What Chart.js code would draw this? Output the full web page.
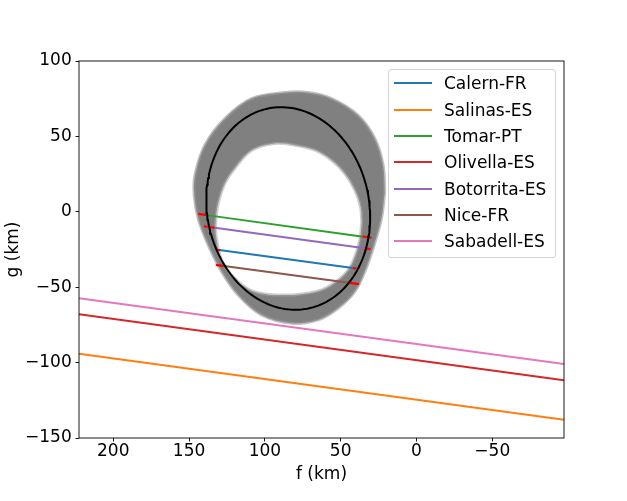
<!DOCTYPE html>
<html>
<head>
<meta charset="utf-8">
<script src="https://cdn.jsdelivr.net/npm/chart.js@4.4.0/dist/chart.umd.min.js"></script>
<style>
  html, body { margin: 0; padding: 0; background: #fff; }
  #wrap   { position: relative; width: 627px; height: 501px; }
  #legend {
    position: absolute; left: 388px; top: 69px; width: 166px; height: 187px;
    border: 1px solid #d4d4d4; border-radius: 3px; background: rgba(255,255,255,0.8);
    font-family: 'DejaVu Sans', sans-serif; font-size: 17px; color: #000;
  }
  .row   { position: absolute; left: 0; height: 26px; display: flex; align-items: center; white-space: nowrap; }
  .row i { display: block; width: 38px; height: 2px; margin-left: 5px; margin-right: 12px; }
</style>
</head>
<body>
<div id="wrap">
  <canvas id="chart" width="627" height="501"></canvas>
  <div id="legend"></div>
</div>
<script>
// ── axis limits / ticks ─────────────────────────────
const fLimits = [-97.3, 222.6];          // f axis is drawn reversed
const gLimits = [-150, 100];
const xTicks  = [200, 150, 100, 50, 0, -50];
const yTicks  = [-150, -100, -50, 0, 50, 100];

// ── chords per station (f,g at start and end, km) ────
const stations = ['Calern-FR', 'Salinas-ES', 'Tomar-PT', 'Olivella-ES', 'Botorrita-ES', 'Nice-FR', 'Sabadell-ES'];
const chordF1  = [130.1, 222.6, 138.4, 222.6, 133.0, 131.8, 222.6];
const chordG1  = [-25.4, -94.1,  -2.2, -68.0, -10.6, -35.3, -57.3];
const chordF2  = [ 40.7, -97.3,  35.2, -97.3,  34.1,  38.5, -97.3];
const chordG2  = [-37.5, -137.9, -16.5, -111.7, -24.2, -47.9, -101.0];

// ── timing error bars at the chord ends ─────────────
const errF1 = [144.0, 35.6, 140.2, 34.1, 131.8, 41.8, 132.3, 45.1];
const errG1 = [ -1.4, -16.4,  -9.6, -24.2, -25.2, -37.3, -35.2, -47.0];
const errF2 = [138.4, 29.6, 133.0, 30.3, 129.4, 39.6, 127.5, 37.8];
const errG2 = [ -2.2, -17.2, -10.6, -24.7, -25.5, -37.6, -35.9, -48.0];

// ── best-fit ellipse (centre f,g / semi-axes / position angle) ──
const ellCenter = [84.6, 2.2];
const ellAxes   = [53.5, 67.6];
const ellAngle  = -10.7;

// ── envelope of the Monte-Carlo ellipses (outer and inner edge) ──
const bandOuterF = [20.9, 23.1, 28.6, 34.1, 40.7, 51.7, 64.9, 82.4, 102.2, 117.6, 128.5, 137.4, 144.0, 146.6, 146.1, 139.6, 126.4, 108.8, 86.8, 71.5, 56.0, 38.5, 27.5, 22.0, 20.9];
const bandOuterG = [13.2, -4.4, -24.2, -39.7, -53.0, -64.0, -71.7, -73.9, -68.4, -55.2, -39.7, -22.0, -4.4, 11.1, 24.3, 44.2, 61.8, 75.1, 79.1, 79.1, 75.1, 64.0, 48.6, 30.9, 13.2];
const bandInnerF = [36.1, 37.4, 40.7, 45.1, 51.7, 62.6, 78.0, 86.8, 100.0, 111.0, 122.0, 128.5, 131.8, 132.5, 130.8, 126.4, 119.8, 108.8, 93.4, 80.2, 67.0, 56.0, 47.3, 40.7, 36.9, 36.1];
const bandInnerG = [-6.8, -18.7, -29.8, -38.6, -45.2, -51.8, -54.8, -55.2, -54.5, -51.2, -41.9, -32.0, -18.7, -7.7, 5.6, 18.8, 28.9, 40.7, 45.3, 44.2, 40.9, 34.2, 25.4, 14.4, 3.3, -6.8];

const stationColors = ['#1f77b4', '#ff7f0e', '#2ca02c', '#d62728', '#9467bd', '#8c564b', '#e377c2'];
const FONT = 'DejaVu Sans';

function toPts(fs, gs) { return fs.map((f, i) => ({ x: f, y: gs[i] })); }
function fmt(v) { return v < 0 ? '\u2212' + Math.abs(v) : String(v); }

// ellipse outline from its parameters
function ellipsePts() {
  const pts = [];
  const a = ellAngle * Math.PI / 180;
  for (let k = 0; k <= 180; k++) {
    const t = k / 180 * 2 * Math.PI;
    const p = ellAxes[0] * Math.cos(t), q = ellAxes[1] * Math.sin(t);
    pts.push({ x: ellCenter[0] + p * Math.cos(a) - q * Math.sin(a),
               y: ellCenter[1] + p * Math.sin(a) + q * Math.cos(a) });
  }
  return pts;
}

const base = { showLine: true, pointRadius: 0, pointHoverRadius: 0 };
const datasets = [];

datasets.push({ ...base, data: toPts(bandOuterF, bandOuterG), fill: 'shape', tension: 0.35,
  backgroundColor: '#808080', borderColor: 'rgba(150,150,150,0.6)', borderWidth: 3, order: 10 });
datasets.push({ ...base, data: toPts(bandInnerF, bandInnerG), fill: 'shape', tension: 0.35,
  backgroundColor: '#ffffff', borderColor: 'rgba(165,165,165,0.55)', borderWidth: 3, order: 9 });

stations.forEach((s, i) => datasets.push({ ...base, label: s,
  data: [{ x: chordF1[i], y: chordG1[i] }, { x: chordF2[i], y: chordG2[i] }],
  borderColor: stationColors[i], borderWidth: 2, order: 5 }));

errF1.forEach((f, i) => datasets.push({ ...base,
  data: [{ x: f, y: errG1[i] }, { x: errF2[i], y: errG2[i] }],
  borderColor: '#ff0000', borderWidth: 2.2, order: 3 }));

datasets.push({ ...base, data: ellipsePts(), borderColor: '#000', borderWidth: 2, order: 1 });

// full box around the axes
const framePlugin = {
  id: 'frame',
  afterDatasetsDraw(chart) {
    const { ctx, chartArea: a } = chart;
    ctx.save();
    ctx.strokeStyle = '#000';
    ctx.lineWidth = 0.9;
    ctx.strokeRect(a.left, a.top, a.right - a.left, a.bottom - a.top);
    ctx.restore();
  }
};

const tickFont = { family: FONT, size: 17, lineHeight: 1 };
const gridOpts = { drawOnChartArea: false, drawTicks: true, tickLength: 3.5, color: '#000', lineWidth: 0.9 };

new Chart(document.getElementById('chart'), {
  type: 'scatter',
  data: { datasets },
  plugins: [framePlugin],
  options: {
    responsive: false,
    animation: false,
    events: [],
    layout: { padding: { left: 0, top: 61, right: 63, bottom: 0 } },
    plugins: { legend: { display: false }, tooltip: { enabled: false } },
    scales: {
      x: {
        type: 'linear', min: fLimits[0], max: fLimits[1], reverse: true,
        afterBuildTicks: s => { s.ticks = xTicks.map(v => ({ value: v })); },
        afterFit: s => { s.height = 63; },
        grid: gridOpts, border: { display: false },
        ticks: { font: tickFont, color: '#000', padding: 2, maxRotation: 0, callback: v => fmt(v) },
        title: { display: true, text: 'f (km)', color: '#000', font: { family: FONT, size: 17 }, padding: { top: 0, bottom: 16.5 } }
      },
      y: {
        type: 'linear', min: gLimits[0], max: gLimits[1],
        afterBuildTicks: s => { s.ticks = yTicks.map(v => ({ value: v })); },
        afterFit: s => { s.width = 79; },
        grid: gridOpts, border: { display: false },
        ticks: { font: tickFont, color: '#000', padding: 3.8, callback: v => fmt(v) },
        title: { display: true, text: 'g (km)', color: '#000', font: { family: FONT, size: 17 }, padding: { top: 3, bottom: 0 } }
      }
    }
  }
});

// ── legend inside the axes ──────────────────────────
const legend = document.getElementById('legend');
legend.innerHTML = stations.map((s, i) =>
  `<div class="row" style="top:${(0.3 + 26.3 * i).toFixed(1)}px"><i style="background:${stationColors[i]}"></i><span>${s}</span></div>`
).join('');
</script>
</body>
</html>
